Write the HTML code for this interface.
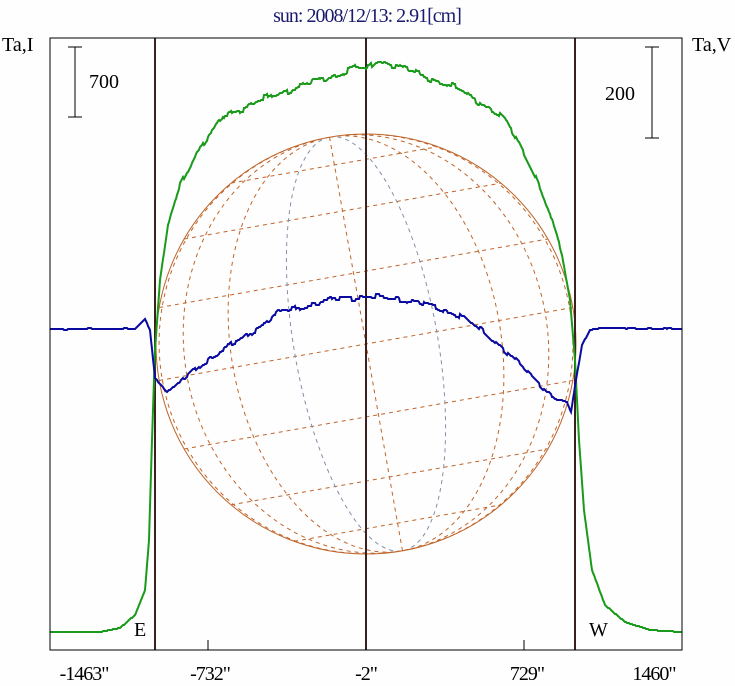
<!DOCTYPE html>
<html><head><meta charset="utf-8"><style>
html,body{margin:0;padding:0;background:#fff;width:735px;height:686px;overflow:hidden}
text{font-family:"Liberation Serif",serif}
</style></head><body>
<svg id="s" width="735" height="686" viewBox="0 0 735 686" xmlns="http://www.w3.org/2000/svg">
<rect width="735" height="686" fill="#fdfefd"/>
<text x="367" y="22" font-size="20" fill="#1a1a6e" text-anchor="middle" letter-spacing="-1">sun: 2008/12/13: 2.91[cm]</text>
<text x="2" y="51" font-size="20" fill="#000">Ta,I</text>
<text x="692" y="51" font-size="20" fill="#000">Ta,V</text>
<defs><clipPath id="c"><circle cx="366" cy="344" r="210"/></clipPath></defs>
<g clip-path="url(#c)"><g id="grid" transform="translate(366,344) rotate(-10)"></g></g>
<circle cx="366" cy="344" r="210" fill="none" stroke="#c0642a" stroke-width="1"/>
<g stroke="#000" stroke-width="1">
<line x1="75" y1="47" x2="75" y2="117"/><line x1="68" y1="47" x2="82" y2="47"/><line x1="68" y1="117" x2="82" y2="117"/>
<line x1="652" y1="47" x2="652" y2="138"/><line x1="645" y1="47" x2="659" y2="47"/><line x1="645" y1="138" x2="659" y2="138"/>
</g>
<text x="89" y="88" font-size="20">700</text>
<text x="605" y="100" font-size="20">200</text>
<g stroke="#3b2020" stroke-width="2">
<line x1="155" y1="38" x2="155" y2="650"/><line x1="366" y1="38" x2="366" y2="650"/><line x1="575" y1="38" x2="575" y2="650"/>
</g>
<g stroke="#000" stroke-width="1">
<line x1="208" y1="640" x2="208" y2="650"/><line x1="524" y1="640" x2="524" y2="650"/>
</g>
<polyline id="g" fill="none" stroke="#1a9a1a" stroke-width="2"/>
<polyline id="b" fill="none" stroke="#0a0aa0" stroke-width="2"/>
<rect x="50" y="38" width="632" height="612" fill="none" stroke="#000" stroke-width="1"/>
<text x="134" y="636" font-size="20">E</text>
<text x="589" y="636" font-size="20">W</text>
<g font-size="20" text-anchor="middle" letter-spacing="-1">
<text x="84" y="680">-1463"</text><text x="210" y="680">-732"</text><text x="366" y="680">-2"</text><text x="527" y="680">729"</text><text x="654" y="680">1460"</text>
</g>
</svg>
<script>
var NS="http://www.w3.org/2000/svg",G=document.getElementById("grid"),R=210;
function el(t,a){var e=document.createElementNS(NS,t);for(var k in a)e.setAttribute(k,a[k]);G.appendChild(e);}
for(var l=-60;l<=60;l+=20){var y=-R*Math.sin(l*Math.PI/180),w=R*Math.cos(l*Math.PI/180);
el("line",{x1:-w,y1:y,x2:w,y2:y,stroke:"#c0642a","stroke-dasharray":"4 4","stroke-width":1});}
for(var m=-80;m<=80;m+=20){var rx=Math.abs(R*Math.sin(m*Math.PI/180));
var col=(m==-20||m==20)?"#8090a8":"#c0642a";
if(m==0)el("line",{x1:0,y1:-R,x2:0,y2:R,stroke:col,"stroke-dasharray":"4 4"});
else el("path",{d:"M0,"+(-R)+" A"+rx+","+R+" 0 0 "+(m>0?1:0)+" 0,"+R,fill:"none",stroke:col,"stroke-dasharray":"4 4"});}
function interp(pts,noise,seed){var out=[];for(var x=50;x<=682;x++){var i=0;while(i<pts.length-2&&pts[i+1][0]<x)i++;
var a=pts[i],b=pts[i+1],t=(x-a[0])/(b[0]-a[0]);t=Math.max(0,Math.min(1,t));var y=a[1]+(b[1]-a[1])*t;
var xs=Math.floor(x/4)*4;
var n=noise(x)*(Math.sin(xs*0.37+seed)+Math.sin(xs*0.13+seed*2)+0.6*Math.sin(xs*0.9));out.push(x+","+Math.round(y+n));}return out.join(" ");}
var gp=[[50,632],[100,632],[120,628],[135,615],[145,590],[149,540],[152,440],[155,350],[160,280],[168,225],[180,185],[195,155],[210,135],[225,115],[250,105],[280,93],[310,83],[340,74],[355,67],[366,70],[378,60],[400,67],[430,78],[460,90],[485,105],[505,120],[520,145],[535,175],[550,215],[562,255],[570,300],[575,360],[579,440],[584,510],[592,570],[605,605],[625,622],[650,630],[682,632]];
document.getElementById("g").setAttribute("points",interp(gp,function(x){return (x>170&&x<560)?1.6:0;},1));
var bp=[[50,329],[135,329],[145,319],[150,330],[155,378],[167,392],[185,378],[210,358],[240,340],[280,312],[310,305],[345,297],[395,298],[420,303],[460,315],[500,345],[530,375],[555,398],[567,402],[571,412],[576,380],[582,345],[590,330],[600,328],[682,329]];
document.getElementById("b").setAttribute("points",interp(bp,function(x){return (x>180&&x<560)?1.5:(x<140||x>595?0.3:0);},3));
</script>
</body></html>
